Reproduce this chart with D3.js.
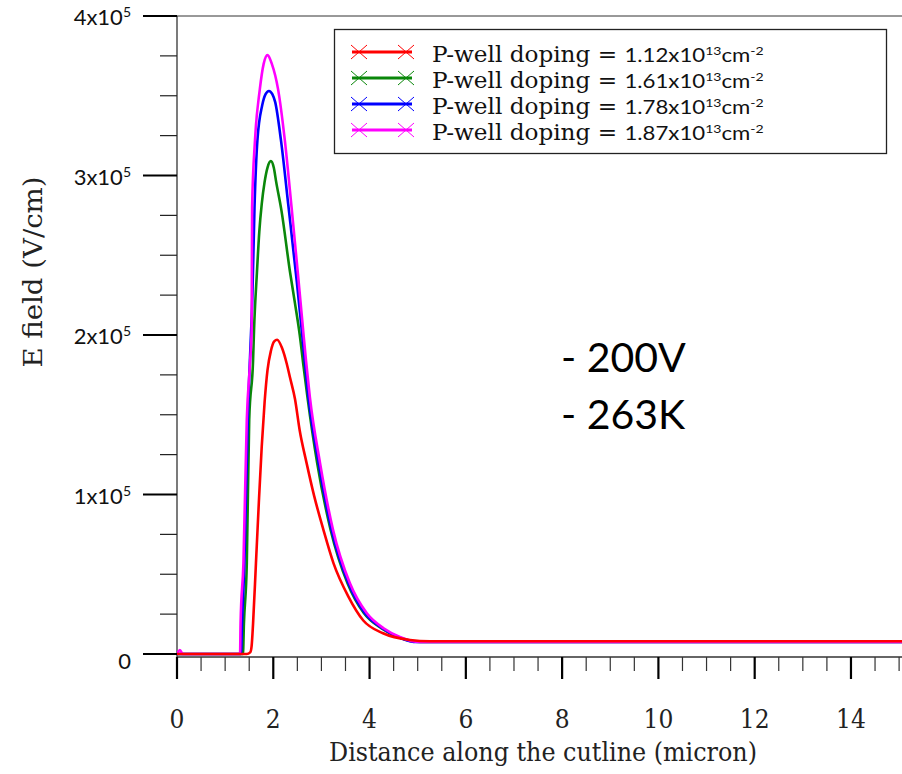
<!DOCTYPE html>
<html>
<head>
<meta charset="utf-8">
<script src="https://cdn.jsdelivr.net/npm/d3@7"></script>
<style>
body{margin:0;background:#fff;}
svg{display:block;}
</style>
</head>
<body>
<script>
const width=902, height=774;
const xLeft=177, xRight=902, yTop=16, yZero=654, yBottom=657;

const dopings=["1.12","1.61","1.78","1.87"];
const colors=["#ff0000","#0a870a","#0000ff","#ff00ff"];

// x in micron, y in units of 1e5 V/cm
const redX=[0,1.45,1.52,1.55,1.58,1.64,1.70,1.76,1.82,1.88,1.95,2.02,2.08,2.18,2.28,2.35,2.45,2.55,2.69,2.85,3.04,3.25,3.56,3.87,4.28,4.84,5.25,15.2];
const redY=[0,0,0.01,0.05,0.19,0.57,0.95,1.30,1.58,1.78,1.90,1.96,1.97,1.92,1.82,1.73,1.60,1.40,1.20,0.99,0.78,0.57,0.36,0.21,0.13,0.088,0.08,0.08];
const greenX=[0,1.37,1.39,1.45,1.50,1.58,1.60,1.66,1.71,1.76,1.82,1.88,1.95,2.01,2.06,2.17,2.35,2.45,2.55,2.63,2.71,2.91,3.19,3.54,3.88,4.25,4.59,5.05,15.2];
const greenY=[0,0,0.19,0.57,1.47,1.84,2.03,2.39,2.65,2.82,2.96,3.05,3.09,3.05,2.96,2.78,2.39,2.20,2.00,1.80,1.61,1.20,0.78,0.445,0.257,0.16,0.107,0.075,0.075];
const blueX=[0,1.33,1.35,1.40,1.47,1.54,1.56,1.61,1.67,1.77,1.84,1.91,1.98,2.04,2.16,2.31,2.49,2.64,2.73,2.94,3.21,3.56,3.90,4.27,4.59,5.0,15.2];
const blueY=[0,0,0.19,0.57,1.47,2.03,2.18,2.80,3.22,3.44,3.51,3.53,3.51,3.46,3.22,2.82,2.33,1.88,1.61,1.20,0.78,0.445,0.257,0.16,0.107,0.075,0.075];
const magentaX=[0,0.06,0.12,1.31,1.32,1.38,1.45,1.52,1.55,1.56,1.62,1.72,1.80,1.88,1.97,2.10,2.24,2.38,2.51,2.62,2.68,2.76,2.97,3.24,3.59,3.94,4.30,4.63,5.05,15.2];
const magentaY=[0,0.025,0,0,0.19,0.57,1.47,1.84,2.03,2.80,3.22,3.54,3.70,3.755,3.70,3.54,3.22,2.80,2.39,2.03,1.84,1.61,1.20,0.78,0.445,0.257,0.16,0.107,0.075,0.075];

const yMajor=[0,1,2,3,4];
const xMajor=[0,2,4,6,8,10,12,14];

const seriesX=[redX,greenX,blueX,magentaX];
const seriesY=[redY,greenY,blueY,magentaY];
const drawOrder=[1,2,3,0];

const x=d3.scaleLinear().domain([0,15.06]).range([xLeft,xRight]);
const y=d3.scaleLinear().domain([0,4]).range([yZero,yTop]);

const svg=d3.select("body").append("svg")
  .attr("width",width).attr("height",height)
  .style("background-color","white");

svg.append("clipPath").attr("id","plot")
  .append("rect").attr("x",xLeft).attr("y",0).attr("width",xRight-xLeft).attr("height",yBottom);

const serif="'DejaVu Serif Condensed','DejaVu Serif',serif";
const sans="Lato,'Open Sans',sans-serif";

// frame
svg.append("line").attr("x1",xLeft).attr("x2",xRight).attr("y1",yTop).attr("y2",yTop)
  .attr("stroke","#333").attr("stroke-width",1);

// y axis
const yMinor=d3.range(0,4.001,0.25).filter(v=>v%1!==0);
const yAxis=svg.append("g").attr("id","y-axis");
yAxis.append("line").attr("x1",xLeft).attr("x2",xLeft).attr("y1",yTop).attr("y2",yBottom+22)
  .attr("stroke","#333").attr("stroke-width",1.3);
yAxis.selectAll(".ymaj").data(yMajor).enter().append("line")
  .attr("x1",xLeft-34).attr("x2",xLeft).attr("y1",d=>y(d)).attr("y2",d=>y(d))
  .attr("stroke","#000").attr("stroke-width",2.2);
yAxis.selectAll(".ymin").data(yMinor).enter().append("line")
  .attr("x1",xLeft-17).attr("x2",xLeft).attr("y1",d=>y(d)).attr("y2",d=>y(d))
  .attr("stroke","#222").attr("stroke-width",1.2);
const yLab=yAxis.selectAll(".ylab").data(yMajor).enter().append("text")
  .attr("x",131).attr("y",d=>y(d)+(d===0?15:9))
  .attr("text-anchor","end")
  .style("font-family",sans).style("font-size","22px").attr("fill","#111");
yLab.filter(d=>d===0).text("0");
yLab.filter(d=>d!==0).each(function(d){
  const t=d3.select(this);
  t.append("tspan").text(d+"x10");
  t.append("tspan").attr("dy",-8).style("font-size","14px").text("5");
});

// x axis
const xMinor=d3.range(0,15.01,0.5).filter(v=>v%2!==0);
const xAxis=svg.append("g").attr("id","x-axis");
xAxis.append("line").attr("x1",xLeft).attr("x2",xRight).attr("y1",yBottom).attr("y2",yBottom)
  .attr("stroke","#333").attr("stroke-width",1.3);
xAxis.selectAll(".xmaj").data(xMajor).enter().append("line")
  .attr("x1",d=>x(d)).attr("x2",d=>x(d)).attr("y1",yBottom).attr("y2",yBottom+22)
  .attr("stroke","#000").attr("stroke-width",2.2);
xAxis.selectAll(".xmin").data(xMinor).enter().append("line")
  .attr("x1",d=>x(d)).attr("x2",d=>x(d)).attr("y1",yBottom).attr("y2",yBottom+14)
  .attr("stroke","#333").attr("stroke-width",1.2);
xAxis.selectAll(".xlab").data(xMajor).enter().append("text")
  .attr("x",d=>x(d)).attr("y",728)
  .attr("text-anchor","middle")
  .style("font-family",serif).style("font-size","26px").attr("fill","#222")
  .text(d=>d);

svg.append("text")
  .attr("x",543).attr("y",761)
  .attr("text-anchor","middle")
  .style("font-family",serif).style("font-size","26.5px").attr("fill","#222")
  .text("Distance along the cutline (micron)");

svg.append("text")
  .attr("transform","translate(42,272) rotate(-90)")
  .attr("text-anchor","middle")
  .attr("textLength",191).attr("lengthAdjust","spacingAndGlyphs")
  .style("font-family",serif).style("font-size","26px").attr("fill","#222")
  .text("E field (V/cm)");

// curves
const line=d3.line()
  .x(d=>x(d[0])).y(d=>y(d[1]))
  .curve(d3.curveMonotoneX);

svg.append("g").attr("clip-path","url(#plot)")
  .selectAll("path").data(drawOrder).enter().append("path")
  .attr("d",i=>line(d3.zip(seriesX[i],seriesY[i])))
  .attr("fill","none")
  .attr("stroke",i=>colors[i])
  .attr("stroke-width",2.6)
  .attr("stroke-linejoin","round");

// annotation
const note=svg.append("g").style("font-family",sans).style("font-size","41px").attr("fill","#000");
note.append("text").attr("x",561).attr("y",372).text("- 200V");
note.append("text").attr("x",561).attr("y",429).text("- 263K");

// legend
const legend=svg.append("g").attr("id","legend");
legend.append("rect").attr("x",334.5).attr("y",29.5).attr("width",552).attr("height",124)
  .attr("fill","white").attr("stroke","#222").attr("stroke-width",1.3);

const rows=legend.selectAll(".legend-label").data(dopings).enter().append("g")
  .attr("class","legend-label")
  .attr("transform",(d,i)=>`translate(0,${52+i*26})`);

rows.append("line").attr("x1",352).attr("x2",412).attr("y1",0).attr("y2",0)
  .attr("stroke",(d,i)=>colors[i]).attr("stroke-width",3);
[359,406].forEach(cx=>{
  rows.append("path")
    .attr("d",`M${cx-8},-7L${cx+8},7M${cx-8},7L${cx+8},-7`)
    .attr("stroke",(d,i)=>colors[i]).attr("stroke-width",1).attr("fill","none");
});

const lt=rows.append("g").attr("transform","translate(432,10) scale(1.17,1)")
  .append("text").attr("x",0).attr("y",0).attr("fill","#111");
lt.append("tspan").style("font-family",serif).style("font-size","22px").text("P-well doping = ");
lt.append("tspan").style("font-family",sans).style("font-size","19px").text(d=>d+"x10");
lt.append("tspan").attr("dy",-7).style("font-family",sans).style("font-size","12px").text("13");
lt.append("tspan").attr("dy",7).style("font-family",sans).style("font-size","19px").text("cm");
lt.append("tspan").attr("dy",-7).style("font-family",sans).style("font-size","12px").text("-2");
</script>
</body>
</html>
